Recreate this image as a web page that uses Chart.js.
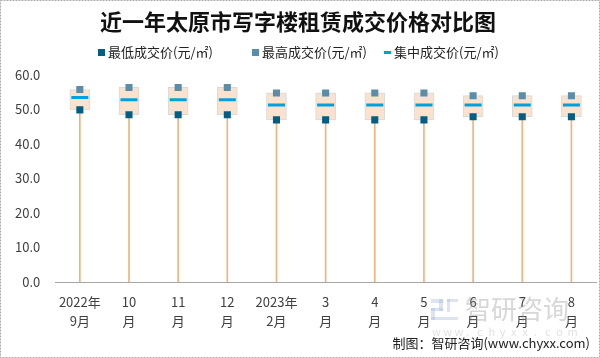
<!DOCTYPE html>
<html>
<head>
<meta charset="utf-8">
<script src="https://cdn.jsdelivr.net/npm/chart.js@4"></script>
<style>
    html, body { margin: 0; padding: 0; background: #fff; }
    #wrap { width: 600px; height: 358px; position: relative; }
</style>
</head>
<body>
<div id="wrap"><canvas id="myChart" width="600" height="358"></canvas></div>
<script>
// data
const categories = [['2022年', '9月'], ['10', '月'], ['11', '月'], ['12', '月'], ['2023年', '2月'],
    ['3', '月'], ['4', '月'], ['5', '月'], ['6', '月'], ['7', '月'], ['8', '月']];
const minPrice = [49.9, 48.5, 48.5, 48.5, 47.0, 47.0, 47.0, 47.0, 47.9, 47.9, 47.9];
const maxPrice = [55.8, 56.4, 56.4, 56.4, 54.8, 54.8, 54.8, 54.8, 54.0, 54.0, 54.0];
const midPrice = [53.5, 52.8, 52.8, 52.8, 51.3, 51.3, 51.3, 51.3, 51.3, 51.3, 51.3];
const yTicks = [0, 10, 20, 30, 40, 50, 60];

const seriesNames = ['最低成交价(元/㎡)', '最高成交价(元/㎡)', '集中成交价(元/㎡)'];
const colMin = '#035E85';
const colMax = '#5B8DA8';
const colMid = '#00A0DC';
const FONT = '"Noto Sans CJK SC", "Noto Sans", sans-serif';

// title, legend, watermark and source line drawn by hand
const decorPlugin = {
    id: 'decor',
    afterDraw(chart) {
        const ctx = chart.ctx;
        ctx.save();
        ctx.fillStyle = '#111';
        ctx.font = 'bold 22px ' + FONT;
        ctx.textAlign = 'center';
        ctx.textBaseline = 'middle';
        ctx.fillText('近一年太原市写字楼租赁成交价格对比图', 298, 22);

        ctx.font = '13px ' + FONT;
        ctx.textAlign = 'left';
        ctx.fillStyle = colMin;
        ctx.fillRect(98, 49, 7, 7);
        ctx.fillStyle = colMax;
        ctx.fillRect(252, 49, 7, 7);
        ctx.fillStyle = colMid;
        ctx.fillRect(384, 51, 7, 3);
        ctx.fillStyle = '#222';
        ctx.fillText(seriesNames[0], 108, 52);
        ctx.fillText(seriesNames[1], 262, 52);
        ctx.fillText(seriesNames[2], 394, 52);

        // watermark
        ctx.globalAlpha = 0.35;
        ctx.fillStyle = '#9bb3d6';
        ctx.fillRect(431, 299, 12, 4);
        ctx.fillRect(439, 299, 4, 12);
        ctx.fillRect(431, 308, 12, 3);
        ctx.fillRect(431, 308, 4, 12);
        ctx.fillRect(431, 317, 27, 3);
        ctx.fillRect(447, 299, 11, 3);
        ctx.fillRect(447, 299, 3, 13);
        ctx.fillStyle = '#8c8c8c';
        ctx.font = '26px ' + FONT;
        ctx.fillText('智研咨询', 465, 309);
        ctx.font = '11px ' + FONT;
        ctx.fillStyle = '#aaa';
        const wm = 'www.chyxx.com';
        for (let i = 0; i < wm.length; i++) {
            ctx.fillText(wm[i], 432 + i * 11.3, 332);
        }
        ctx.globalAlpha = 1;

        ctx.fillStyle = '#222';
        ctx.font = '13px ' + FONT;
        ctx.textAlign = 'right';
        ctx.fillText('制图：智研咨询(www.chyxx.com)', 590, 343);

        ctx.strokeStyle = '#aaa';
        ctx.setLineDash([2, 1]);
        ctx.lineWidth = 1;
        ctx.strokeRect(0.5, 0.5, 599, 357);
        ctx.restore();
    }
};

const chartSettings = {
    data: {
        labels: categories,
        datasets: [
            {
                type: 'bar',
                label: 'stem',
                data: minPrice.map(v => [0, v]),
                backgroundColor: '#F2B27C',
                barThickness: 1,
                grouped: false,
                order: 5
            },
            {
                type: 'bar',
                label: 'box',
                data: minPrice.map((v, i) => [v, maxPrice[i]]),
                backgroundColor: '#F9E2CE',
                borderColor: '#D9D9D9',
                borderWidth: 1,
                borderSkipped: false,
                barThickness: 20,
                grouped: false,
                order: 4
            },
            {
                type: 'line',
                label: seriesNames[0],
                data: minPrice,
                showLine: false,
                pointStyle: 'rect',
                pointRadius: 5,
                pointBorderWidth: 0,
                pointBackgroundColor: colMin,
                pointBorderColor: colMin,
                order: 1
            },
            {
                type: 'line',
                label: seriesNames[1],
                data: maxPrice,
                showLine: false,
                pointStyle: 'rect',
                pointRadius: 5,
                pointBorderWidth: 0,
                pointBackgroundColor: colMax,
                pointBorderColor: colMax,
                order: 1
            },
            {
                type: 'line',
                label: seriesNames[2],
                data: midPrice,
                showLine: false,
                pointStyle: 'line',
                pointRadius: 8.5,
                pointBorderWidth: 3,
                pointBorderColor: colMid,
                pointBackgroundColor: colMid,
                order: 1
            }
        ]
    },
    options: {
        responsive: false,
        animation: false,
        layout: {
            autoPadding: false,
            padding: {top: 75, left: 0, right: 4, bottom: 17}
        },
        plugins: {
            legend: {display: false},
            title: {display: false},
            tooltip: {enabled: false}
        },
        scales: {
            x: {
                grid: {display: false, drawTicks: false},
                border: {display: true, color: '#A6A6A6', width: 1},
                ticks: {
                    color: '#404040',
                    padding: 10,
                    maxRotation: 0,
                    autoSkip: false,
                    font: {size: 13, family: FONT, lineHeight: 1.5}
                }
            },
            y: {
                min: 0,
                max: 60,
                afterBuildTicks: function(axis) {
                    axis.ticks = yTicks.map(v => ({value: v}));
                },
                grid: {display: false, drawTicks: false},
                border: {display: false},
                ticks: {
                    color: '#404040',
                    padding: 15,
                    font: {size: 13, family: FONT},
                    callback: v => v.toFixed(1)
                }
            }
        }
    },
    plugins: [decorPlugin]
};

window.onload = function() {
    const ctx = document.getElementById('myChart').getContext('2d');
    new Chart(ctx, chartSettings);
};
</script>
</body>
</html>
